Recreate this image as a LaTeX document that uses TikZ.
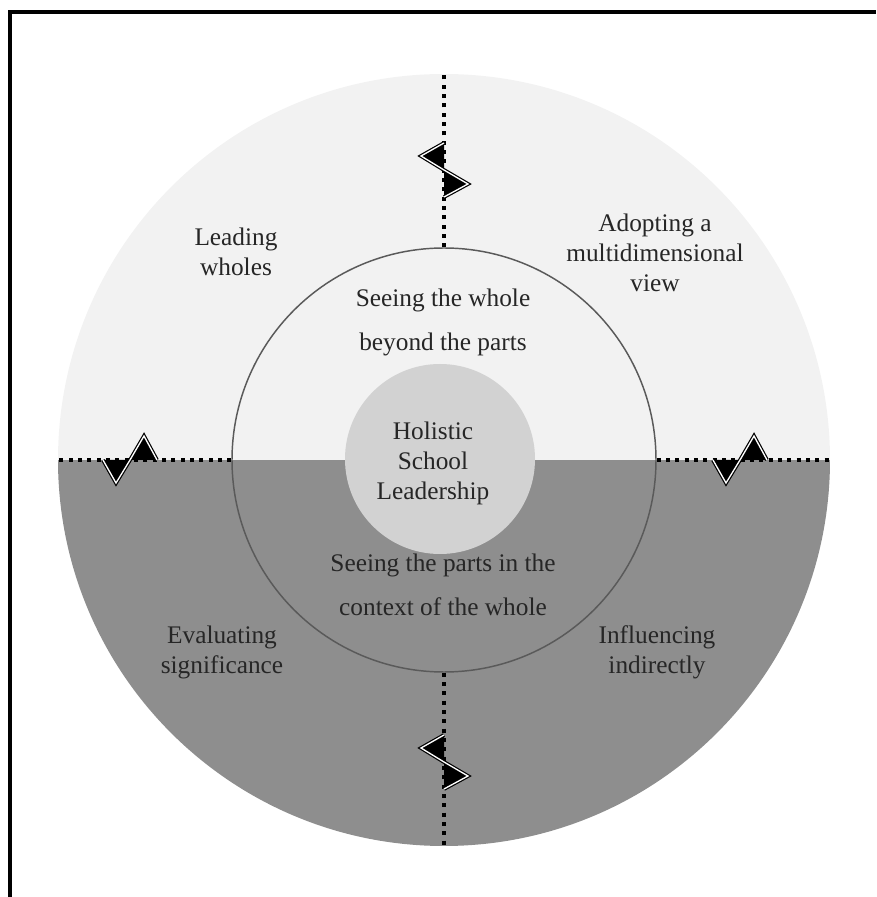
\documentclass[tikz,border=0pt]{standalone}
\usepackage{fontspec}
\setmainfont{Liberation Serif}
\definecolor{lighthalf}{HTML}{F2F2F2}
\definecolor{darkhalf}{HTML}{8E8E8E}
\definecolor{hubgray}{HTML}{D2D2D2}
\definecolor{ringgray}{HTML}{5A5A5A}
\definecolor{textgray}{HTML}{262626}
\tikzset{
  lbl/.style={align=center, text=textgray, font=\fontsize{19}{22.5}\selectfont},
  ringlbl/.style={align=center, text=textgray, font=\fontsize{19}{33}\selectfont},
  spoke/.style={draw=black, line width=3pt, dash pattern=on 3pt off 4pt},
  zigzag/.pic={
    \fill[black] (-27,0) -- (-14,-23) -- (0,0) -- cycle;
    \fill[black] (0,0) -- (14,24) -- (27,0) -- cycle;
    \draw[draw=black, line width=0.9pt, double=white, double distance=1pt, line join=miter]
      (-27,0) -- (-14,-23) -- (0,0) -- (14,24) -- (27,0);
  }
}
\begin{document}
\begin{tikzpicture}[x=0.75pt, y=0.75pt]
        \useasboundingbox (0,0) rectangle (876,897);
        % frame
        \draw[line width=3pt] (10,0) -- (10,885) -- (876,885);

        \node[shape=circle, inner sep=0pt, minimum size=579pt,
          path picture={
            \fill[lighthalf] (path picture bounding box.north west) rectangle (path picture bounding box.east);
            \fill[darkhalf] (path picture bounding box.west) rectangle (path picture bounding box.south east);
          }] (outer) at (444,437) {};
        \node[shape=circle, inner sep=0pt, minimum size=318pt, draw=ringgray, line width=1.1pt] (ring) at (444,437) {};
        \node[shape=circle, inner sep=0pt, minimum size=142.5pt, fill=hubgray] (hub) at (440,438) {};

        \path[spoke] (ring.north) edge (outer.north);
        \path[spoke] (ring.south) edge (outer.south);
        \path[spoke] (ring.west) edge (outer.west);
        \path[spoke] (ring.east) edge (outer.east);

        \pic[rotate=-90] at (444,727) {zigzag};
        \pic[rotate=-90] at (444,135) {zigzag};
        \pic at (130,437) {zigzag};
        \pic at (740,437) {zigzag};

        \node[lbl] (hubtext) at (433,434) {Holistic\\School\\Leadership};
        \node[ringlbl] (whole) at (443,575) {Seeing the whole\\beyond the parts};
        \node[ringlbl] (parts) at (443,312) {Seeing the parts in the\\context of the whole};

        \node[lbl] (leading) at (236,645) {Leading\\wholes};
        \node[lbl] (adopting) at (655,644) {Adopting a\\multidimensional\\view};
        \node[lbl] (evaluating) at (222,245) {Evaluating\\significance};
        \node[lbl] (influencing) at (657,245) {Influencing\\indirectly};
    \end{tikzpicture}
\end{document}
